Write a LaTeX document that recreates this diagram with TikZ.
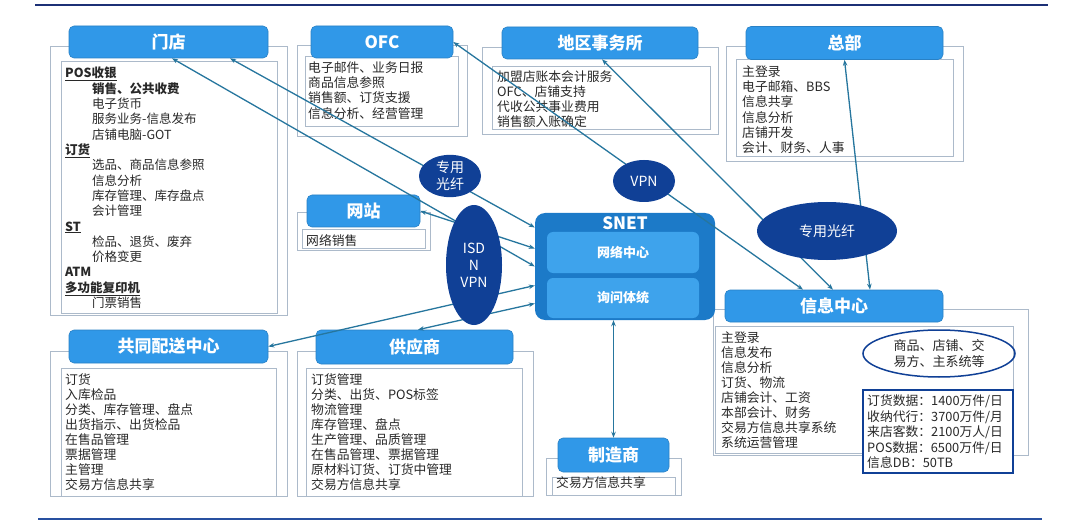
\documentclass[tikz,border=0pt]{standalone}
\usepackage{fontspec}
\setmainfont{Noto Sans CJK SC}
\usetikzlibrary{arrows.meta,shapes.geometric,calc}
\definecolor{tblue}{RGB}{48,152,232}
\definecolor{snetc}{RGB}{28,122,200}
\definecolor{innerc}{RGB}{62,163,236}
\definecolor{ellc}{RGB}{16,64,150}
\definecolor{framec}{RGB}{172,186,202}
\definecolor{connc}{RGB}{38,118,158}
\definecolor{textc}{RGB}{40,40,40}
\definecolor{rulec}{RGB}{40,80,160}
\definecolor{toprulec}{RGB}{28,48,118}
\tikzset{
  titlebox/.style={fill=tblue, draw=tblue!85!black, line width=0.6pt, rounded corners=5pt, text=white, inner sep=0,
    font=\fontsize{17}{19}\selectfont\bfseries},
  framebox/.style={draw=framec, line width=1pt},
  bodytext/.style={anchor=north west, align=left, inner sep=0, text=textc,
    font=\fontsize{12.8}{15.2}\selectfont},
  conn/.style={draw=connc, line width=1.3pt, {Stealth[length=6pt,width=4.5pt]}-{Stealth[length=6pt,width=4.5pt]}},
  darkell/.style={ellipse, fill=ellc, text=white, inner sep=0, align=center,
    font=\fontsize{14}{17}\selectfont},
}
\begin{document}
\begin{tikzpicture}[x=1pt,y=-1pt]
\useasboundingbox (0,0) rectangle (1080,532);
\fill[white] (0,0) rectangle (1080,532);
% rules
\draw[toprulec, line width=2.5pt] (35,5) -- (1048,5);
\draw[rulec, line width=2pt] (38,519) -- (1042,519);

% ---------- frames ----------
% 门店
\draw[framebox] (50,47) rectangle (287,315);
\draw[framebox] (61,62) rectangle (277,313);
% OFC
\draw[framebox] (297,46) rectangle (467,137);
\draw[framebox] (305,57) rectangle (458,127);
% 地区事务所
\draw[framebox] (482,48) rectangle (718,135);
\draw[framebox] (492,67) rectangle (710,130);
% 总部
\draw[framebox] (726,47) rectangle (963,162);
\draw[framebox] (736,60) rectangle (953,157);
% 网站
\draw[framebox] (297,213) rectangle (430,250);
\draw[framebox] (302,230) rectangle (425,248);
% 共同配送中心
\draw[framebox] (50,351) rectangle (287,496);
\draw[framebox] (61,368) rectangle (276,496);
% 供应商
\draw[framebox] (297,351) rectangle (533,496);
\draw[framebox] (306,368) rectangle (522,496);
% 制造商
\draw[framebox] (546,458) rectangle (681,495);
\draw[framebox] (552,477) rectangle (675,495);
% 信息中心
\draw[framebox] (713,309) rectangle (1028,455);
\draw[framebox] (715,326) rectangle (1013,453);

% ---------- titles ----------
\node[titlebox, minimum width=199, minimum height=32] (md) at (168.5,42) {门店};
\node[titlebox, minimum width=142, minimum height=32] (ofc) at (382,42) {OFC};
\node[titlebox, minimum width=196, minimum height=32] (dq) at (600,43) {地区事务所};
\node[titlebox, minimum width=197, minimum height=33] (zb) at (844.5,43) {总部};
\node[titlebox, minimum width=113, minimum height=32] (wz) at (363.5,211) {网站};
\node[titlebox, minimum width=199, minimum height=33] (gt) at (168.5,346.5) {共同配送中心};
\node[titlebox, minimum width=197, minimum height=34] (gy) at (414.5,347) {供应商};
\node[titlebox, minimum width=111, minimum height=34] (zz) at (613.5,455) {制造商};
\node[titlebox, minimum width=218, minimum height=32] (xx) at (834,306) {信息中心};

% ---------- body texts ----------
\node[bodytext, font=\fontsize{12.5}{15.33}\selectfont] (mdt) at (65,66.8) {%
\underline{\textbf{POS收银}}\\
\hspace*{27pt}\textbf{销售、公共收费}\\
\hspace*{27pt}电子货币\\
\hspace*{27pt}服务业务-信息发布\\
\hspace*{27pt}店铺电脑-GOT\\
\underline{\textbf{订货}}\\
\hspace*{27pt}选品、商品信息参照\\
\hspace*{27pt}信息分析\\
\hspace*{27pt}库存管理、库存盘点\\
\hspace*{27pt}会计管理\\
\underline{\textbf{ST}}\\
\hspace*{27pt}检品、退货、废弃\\
\hspace*{27pt}价格变更\\
\textbf{ATM}\\
\underline{\textbf{多功能复印机}}\\
\hspace*{27pt}门票销售};
\node[bodytext] (ofct) at (308,61.6) {电子邮件、业务日报\\商品信息参照\\销售额、订货支援\\信息分析、经营管理};
\node[bodytext, font=\fontsize{12.8}{15}\selectfont] (dqt) at (497,70.6) {加盟店账本会计服务\\OFC、店铺支持\\代收公共事业费用\\销售额入账确定};
\node[bodytext] (zbt) at (742,65.6) {主登录\\电子邮箱、BBS\\信息共享\\信息分析\\店铺开发\\会计、财务、人事};
\node[bodytext] (wzt) at (306,234.6) {网络销售};
\node[bodytext, font=\fontsize{12.8}{15}\selectfont] (gtt) at (65,373.6) {订货\\入库检品\\分类、库存管理、盘点\\出货指示、出货检品\\在售品管理\\票据管理\\主管理\\交易方信息共享};
\node[bodytext, font=\fontsize{12.8}{15}\selectfont] (gyt) at (311,373.6) {订货管理\\分类、出货、POS标签\\物流管理\\库存管理、盘点\\生产管理、品质管理\\在售品管理、票据管理\\原材料订货、订货中管理\\交易方信息共享};
\node[bodytext] (zzt) at (556,476.6) {交易方信息共享};
\node[bodytext, font=\fontsize{12.8}{15}\selectfont] (xxt) at (721,331.6) {主登录\\信息发布\\信息分析\\订货、物流\\店铺会计、工资\\本部会计、财务\\交易方信息共享系统\\系统运营管理};

% data box and ellipse in 信息中心
\node[draw=ellc, line width=1.5pt, fill=white, minimum width=150, minimum height=83, inner sep=0] (db) at (938,431.5) {};
\node[bodytext, font=\fontsize{12.8}{15.5}\selectfont] (dbt) at (867,394.6) {订货数据：1400万件/日\\收纳代行：3700万件/月\\来店客数：2100万人/日\\POS数据：6500万件/日\\信息DB：50TB};
\node[ellipse, draw=ellc, line width=1.5pt, minimum width=152, minimum height=47, inner sep=0, align=center, text=textc,
  font=\fontsize{13}{16}\selectfont] (e5) at (939,353.5) {商品、店铺、交\\易方、主系统等};

% ---------- SNET ----------
\node[fill=snetc, rounded corners=10pt, minimum width=180, minimum height=107, inner sep=0] (snet) at (625,266.5) {};
\node[text=white, inner sep=0, font=\fontsize{17}{19}\selectfont\bfseries] (snetl) at (625,223) {SNET};
\node[fill=innerc, rounded corners=6pt, minimum width=152, minimum height=41, inner sep=0, text=white,
  font=\fontsize{13}{15}\selectfont\bfseries] (wl) at (623,252.5) {网络中心};
\node[fill=innerc, rounded corners=6pt, minimum width=152, minimum height=40, inner sep=0, text=white,
  font=\fontsize{13}{15}\selectfont\bfseries] (xw) at (623,298) {询问体统};

% ---------- connectors ----------
\draw[conn] ([xshift=3.5pt]md.south) -- (snet.west);
\draw[conn] ([xshift=61.5pt]md.south) -- ([yshift=39pt]snet.west);
\draw[conn] (wz.east) -- ([yshift=18pt]snet.west);
\draw[conn] (gt.east) -- ([yshift=-19pt]snet.west);
\draw[conn] ([xshift=3.5pt]gy.north) -- ([yshift=-37pt]snet.west);
\draw[conn] (zz.north) -- (zz.north |- snet.south);
\draw[conn] (ofc.east) -- ([xshift=-31pt]xx.north);
\draw[conn] ([xshift=2pt]dq.south) -- ([xshift=-1pt]xx.north);
\draw[conn] (zb.south) -- ([xshift=36pt]xx.north);

% ---------- ellipses ----------
\node[darkell, minimum width=62, minimum height=42] (e1) at (450,176) {专用\\光纤};
\node[darkell, minimum width=56, minimum height=120] (e2) at (474,265) {ISD\\N\\VPN};
\node[darkell, minimum width=62, minimum height=42] (e3) at (644,181) {VPN};
\node[darkell, minimum width=140, minimum height=58] (e4) at (827,231) {专用光纤};
\end{tikzpicture}
\end{document}
